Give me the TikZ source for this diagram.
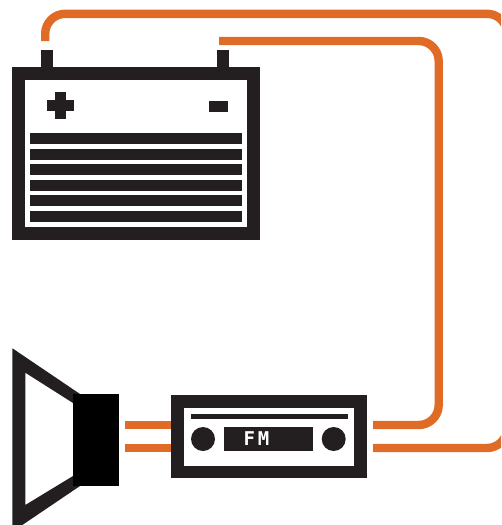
\documentclass[tikz,border=0pt]{standalone}
\usepackage{fontspec}
\newfontfamily\lcdfont{DejaVu Sans Mono}
\definecolor{ink}{HTML}{231F20}
\definecolor{wire}{HTML}{E06B26}
\tikzset{
  outline/.style={rectangle,draw=ink,fill=white,line width=12.6pt,inner sep=0pt,outer sep=0pt},
  solid block/.style={rectangle,fill=ink,inner sep=0pt,outer sep=0pt},
  cable/.style={draw=wire,line width=8.4pt,rounded corners=20pt},
  knob/.style={circle,fill=ink,inner sep=0pt,outer sep=0pt,minimum size=24pt},
}
\begin{document}
\begin{tikzpicture}[x=1pt,y=-1pt]
\clip (0,0) rectangle (501,525);
\useasboundingbox (0,0) rectangle (501,525);
% wires
\coordinate (a1) at (45.2,41);
\coordinate (a2) at (45.2,13.8);
\coordinate (a3) at (507,13.8);
\coordinate (a4) at (507,448);
\coordinate (a5) at (373,448);
\coordinate (b1) at (219,41);
\coordinate (b2) at (438.7,41);
\coordinate (b3) at (438.7,425);
\coordinate (b4) at (373,425);
\coordinate (c1) at (125,425);
\coordinate (c2) at (125,448);
\coordinate (c3) at (178,425);
\coordinate (c4) at (178,448);
\draw[cable] (a1) -- (a2) -- (a3) -- (a4) -- (a5);
\draw[cable] (b1) -- (b2) -- (b3) -- (b4);
\draw[cable] (c1) -- (c3);
\draw[cable] (c2) -- (c4);
% terminals
\node[solid block,minimum width=12pt,minimum height=20pt] (termA) at (47,59.5) {};
\node[solid block,minimum width=12pt,minimum height=20pt] (termB) at (223,59.5) {};
% battery
\node[outline,minimum width=235pt,minimum height=159.6pt] (battery) at (136.2,153.5) {};
\node[solid block,minimum width=27.4pt,minimum height=10.6pt] (plusH) at (60.4,105.3) {};
\node[solid block,minimum width=11.4pt,minimum height=27.6pt] (plusV) at (60.4,105.5) {};
\node[solid block,minimum width=19pt,minimum height=10.7pt] (minus) at (218.5,106.3) {};
\foreach \n/\yy in {1/138.5,2/154.5,3/169.5,4/185.5,5/200.5,6/216.5}
  \node[solid block,minimum width=212pt,minimum height=11pt] (cell\n) at (136,\yy) {};
% speaker
\fill[ink,even odd rule]
  (12.4,348.3) -- (80,394) -- (80,486) -- (12.4,531.7) -- cycle
  (25.3,372.7) -- (73,403) -- (73,476) -- (25.3,505) -- cycle;
\node[rectangle,fill=black,inner sep=0pt,outer sep=0pt,minimum width=45.6pt,minimum height=91.4pt] (magnet) at (95.9,440) {};
% radio
\node[outline,minimum width=183pt,minimum height=70.7pt] (radio) at (268.8,436.7) {};
\node[solid block,minimum width=157pt,minimum height=5pt] (dial) at (269.5,416.5) {};
\node[knob] (knobL) at (203,439) {};
\node[knob] (knobR) at (333.7,439) {};
\node[solid block,minimum width=89pt,minimum height=24pt] (display) at (268.5,439) {};
\node[inner sep=0pt,text=white,font=\lcdfont\bfseries\fontsize{19}{20}\selectfont] (fm) at (256.5,439) {F\hspace{3pt}M};
\end{tikzpicture}
\end{document}
